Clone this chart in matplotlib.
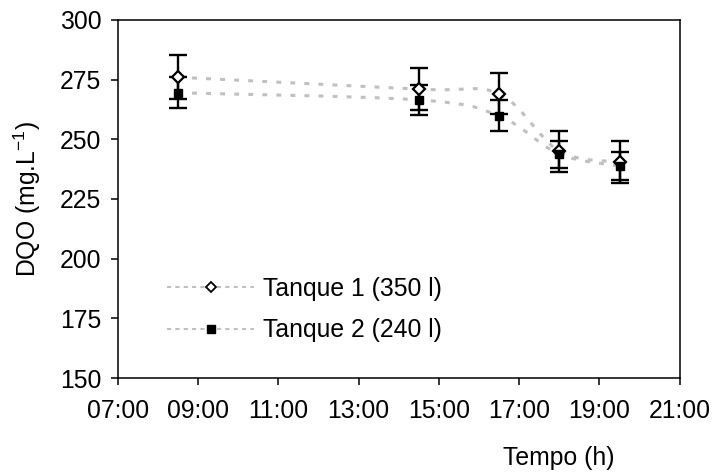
"""DQO ao longo do dia nos dois tanques (com barras de desvio)."""

import matplotlib

matplotlib.use("Agg")

import matplotlib.pyplot as plt
import numpy as np
from matplotlib.lines import Line2D
from matplotlib.patches import PathPatch
from matplotlib.path import Path
from matplotlib.ticker import FuncFormatter, MultipleLocator

plt.rcParams["font.family"] = ["Liberation Sans", "DejaVu Sans"]
plt.rcParams["mathtext.fontset"] = "custom"
plt.rcParams["mathtext.rm"] = "Liberation Sans"
plt.rcParams["mathtext.it"] = "Liberation Sans"

# horas de coleta (08:30, 14:30, 16:30, 18:00, 19:30)
horas = [8.5, 14.5, 16.5, 18.0, 19.5]

tanque1 = [276.0, 271.0, 269.0, 245.0, 240.5]
tanque1_err = [9.3, 8.7, 8.6, 8.5, 9.0]

tanque2 = [269.5, 266.5, 259.8, 243.8, 238.8]
tanque2_err = [6.5, 6.2, 6.5, 5.7, 6.0]

labels = ["Tanque 1 (350 l)", "Tanque 2 (240 l)"]
x_ticks = [7, 9, 11, 13, 15, 17, 19, 21]

LINE_GRAY = "#c0c0c0"
FS = 17.8


def smooth_path(x, y):
    # linha suavizada ao estilo do Excel (Catmull-Rom em Bezier cubica)
    pts = np.column_stack([x, y]).astype(float)
    n = len(pts)
    verts = [pts[0]]
    codes = [Path.MOVETO]
    for i in range(n - 1):
        p0 = pts[max(i - 1, 0)]
        p1 = pts[i]
        p2 = pts[i + 1]
        p3 = pts[min(i + 2, n - 1)]
        verts += [p1 + (p2 - p0) / 6, p2 - (p3 - p1) / 6, p2]
        codes += [Path.CURVE4] * 3
    return Path(verts, codes)


fig = plt.figure(figsize=(7.14, 4.73), dpi=100)
ax = fig.add_axes([0.165, 0.2008, 0.787, 0.757])

for serie in (tanque1, tanque2):
    ax.add_patch(PathPatch(
        smooth_path(horas, serie), fill=False, edgecolor=LINE_GRAY,
        lw=2.2, linestyle=(0, (1.6, 3.0)), capstyle="butt", zorder=1,
    ))

for serie, err in ((tanque1, tanque1_err), (tanque2, tanque2_err)):
    ax.errorbar(horas, serie, yerr=err, fmt="none", ecolor="black",
                elinewidth=1.7, capsize=6.5, capthick=1.7, zorder=2)

ax.plot(horas, tanque1, linestyle="none", marker="D", ms=6.2,
        mfc="white", mec="black", mew=1.6, zorder=3)
ax.plot(horas, tanque2, linestyle="none", marker="s", ms=6.2,
        mfc="black", mec="black", zorder=3)

ax.set_xlim(7, 21)
ax.set_ylim(150, 300)
ax.set_xticks(x_ticks)
ax.yaxis.set_major_locator(MultipleLocator(25))
ax.xaxis.set_major_formatter(FuncFormatter(lambda v, _: f"{int(v):02d}:00"))

for side in ("left", "right", "top", "bottom"):
    ax.spines[side].set_linewidth(1.1)
ax.tick_params(axis="both", which="both", direction="out", length=5,
               width=1.1, labelsize=FS, top=False, right=False)
ax.tick_params(axis="x", pad=10)
ax.tick_params(axis="y", pad=7)

ax.set_ylabel("DQO (mg.L$^{-1}$)", fontsize=FS, labelpad=12)
ax.set_xlabel("Tempo (h)", fontsize=FS)
ax.xaxis.set_label_coords(0.785, -0.19)

handles = [
    Line2D([], [], color=LINE_GRAY, lw=1.5, linestyle=(0, (2, 2)),
           marker="D", ms=5, mfc="white", mec="black", mew=1.3),
    Line2D([], [], color=LINE_GRAY, lw=1.5, linestyle=(0, (2, 2)),
           marker="s", ms=5.5, mfc="black", mec="black"),
]
ax.legend(handles, labels, loc="upper left", bbox_to_anchor=(0.088, 0.283),
          frameon=False, fontsize=FS, numpoints=1, handlelength=3.5,
          handletextpad=0.36, labelspacing=0.72, borderpad=0,
          borderaxespad=0)

fig.savefig("out.png", dpi=100)
